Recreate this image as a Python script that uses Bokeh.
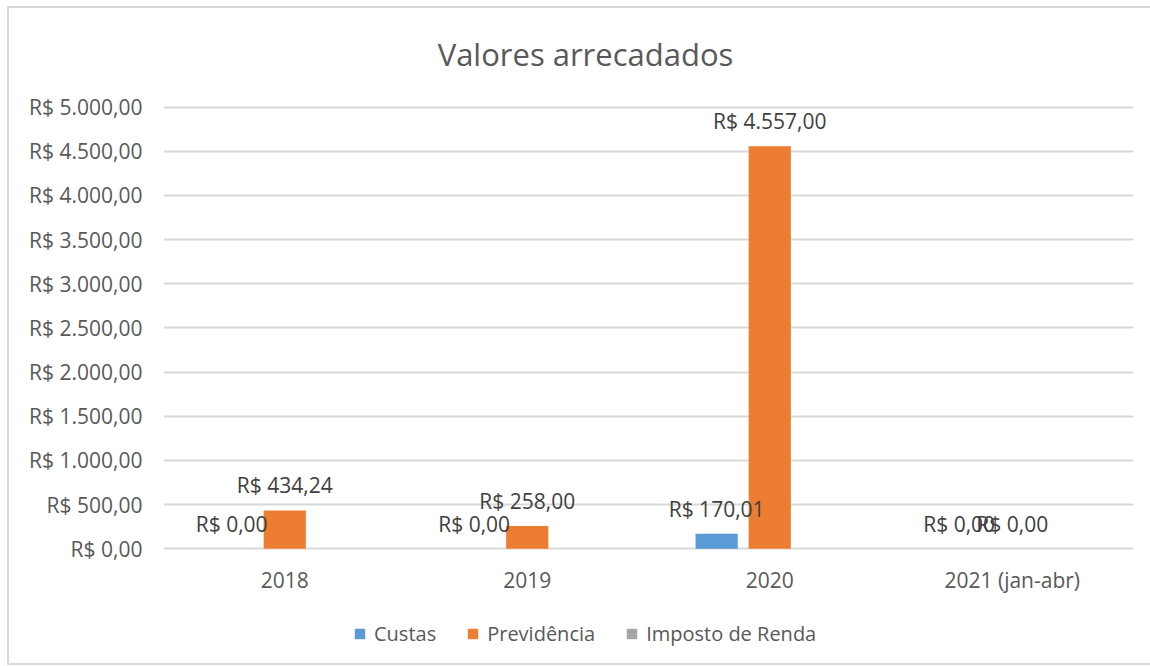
import math
from bokeh.plotting import figure
from bokeh.models import (ColumnDataSource, FactorRange, FixedTicker, Legend,
                          LegendItem, Label, Range1d)
from bokeh.transform import dodge
from bokeh.core.properties import value
from bokeh.embed import file_html
from bokeh.resources import INLINE

# ---------------- data ----------------
categories = ["2018", "2019", "2020", "2021 (jan-abr)"]
series_names = ["Custas", "Previdência", "Imposto de Renda"]
custas = [0.00, 0.00, 170.01, 0.00]
previdencia = [434.24, 258.00, 4557.00, 0.00]
imposto_renda = [math.nan, math.nan, math.nan, math.nan]  # no values recorded
series_colors = ["#5B9BD5", "#ED7D31", "#A5A5A5"]
y_ticks = [0, 500, 1000, 1500, 2000, 2500, 3000, 3500, 4000, 4500, 5000]
title_text = "Valores arrecadados"


def brl(v):
    s = f"{v:,.2f}".replace(",", "X").replace(".", ",").replace("X", ".")
    return "R$ " + s


FONT = "Open Sans"
GRID = "#d9d9d9"
TXT = "#595959"

# layout: the plotting frame spans the whole chart height (title and legend are
# drawn inside it); the 0..5000 scale takes 441 px of it
W, H = 1141, 655
FRAME_PX = 658               # rendered frame height
PX_PER_UNIT = 441 / 5000
ZERO_FROM_TOP = 539.5        # px from frame top to the zero line
Y_TOP = ZERO_FROM_TOP / PX_PER_UNIT
Y_BOT = Y_TOP - FRAME_PX / PX_PER_UNIT

p = figure(x_range=FactorRange(*categories, range_padding=0),
           y_range=Range1d(Y_BOT, Y_TOP),
           width=W, height=H, x_axis_location=None,
           output_backend="svg", toolbar_location=None,
           min_border_left=154, min_border_right=19,
           min_border_top=0, min_border_bottom=0)
p.styles = {"box-sizing": "content-box",
            "margin-left": "7px", "margin-top": "6px",
            "border-left": f"2px solid {GRID}",
            "border-top": f"2px solid {GRID}",
            "border-bottom": f"2px solid {GRID}",
            "border-right": "none"}
p.outline_line_color = None
p.xgrid.grid_line_color = None
p.ygrid.grid_line_color = GRID
p.ygrid.grid_line_width = 2
p.yaxis.ticker = FixedTicker(ticks=y_ticks)
p.yaxis.major_label_overrides = {t: brl(t) for t in y_ticks}
p.yaxis.axis_line_color = None
p.yaxis.major_tick_line_color = None
p.yaxis.minor_tick_line_color = None
p.yaxis.major_tick_in = 0
p.yaxis.major_tick_out = 0
p.yaxis.major_label_text_font = FONT
p.yaxis.major_label_text_color = TXT
p.yaxis.major_label_text_font_size = "21px"
p.yaxis.major_label_standoff = 21

# category labels under the zero line
csrc = ColumnDataSource(dict(x=categories, y=[0] * len(categories)))
p.text(x="x", y="y", text="x", source=csrc, text_align="center",
       text_baseline="middle", y_offset=31, text_font=value(FONT),
       text_font_size="21px", text_color=TXT)

offsets = [-0.219, 0.0, 0.219]
bar_w = 0.174
all_series = [custas, previdencia, imposto_renda]
items = []
for name, vals, col, off in zip(series_names, all_series, series_colors, offsets):
    src = ColumnDataSource(dict(x=categories, top=vals))
    r = p.vbar(x=dodge("x", off, range=p.x_range), top="top", bottom=0,
               width=bar_w, source=src, fill_color=col, line_color=None)
    items.append(LegendItem(label=name, renderers=[r]))

# data labels drawn after all bars so they sit on top
for vals, off in zip(all_series, offsets):
    lx = [c for c, v in zip(categories, vals) if not math.isnan(v)]
    lv = [v for v in vals if not math.isnan(v)]
    if lx:
        lsrc = ColumnDataSource(dict(x=lx, y=lv, t=[brl(v) for v in lv]))
        p.text(x=dodge("x", off, range=p.x_range), y="y", text="t", source=lsrc,
               text_align="center", text_baseline="middle", y_offset=-25,
               text_font=value(FONT), text_font_size="21px", text_color="#404040")

legend = Legend(items=items, orientation="horizontal", location=(190, 20),
                border_line_color=None, background_fill_alpha=0,
                padding=0, margin=0, spacing=30, glyph_width=13, glyph_height=13,
                label_standoff=8, label_text_font=FONT, label_text_font_size="20px",
                label_text_color=TXT)
p.add_layout(legend)

p.add_layout(Label(x=422, y=FRAME_PX - 44, x_units="screen", y_units="screen",
                   text=title_text, text_align="center", text_baseline="middle",
                   text_font=FONT, text_font_size="31px", text_color=TXT))

open("out.html", "w").write(file_html(p, INLINE))
